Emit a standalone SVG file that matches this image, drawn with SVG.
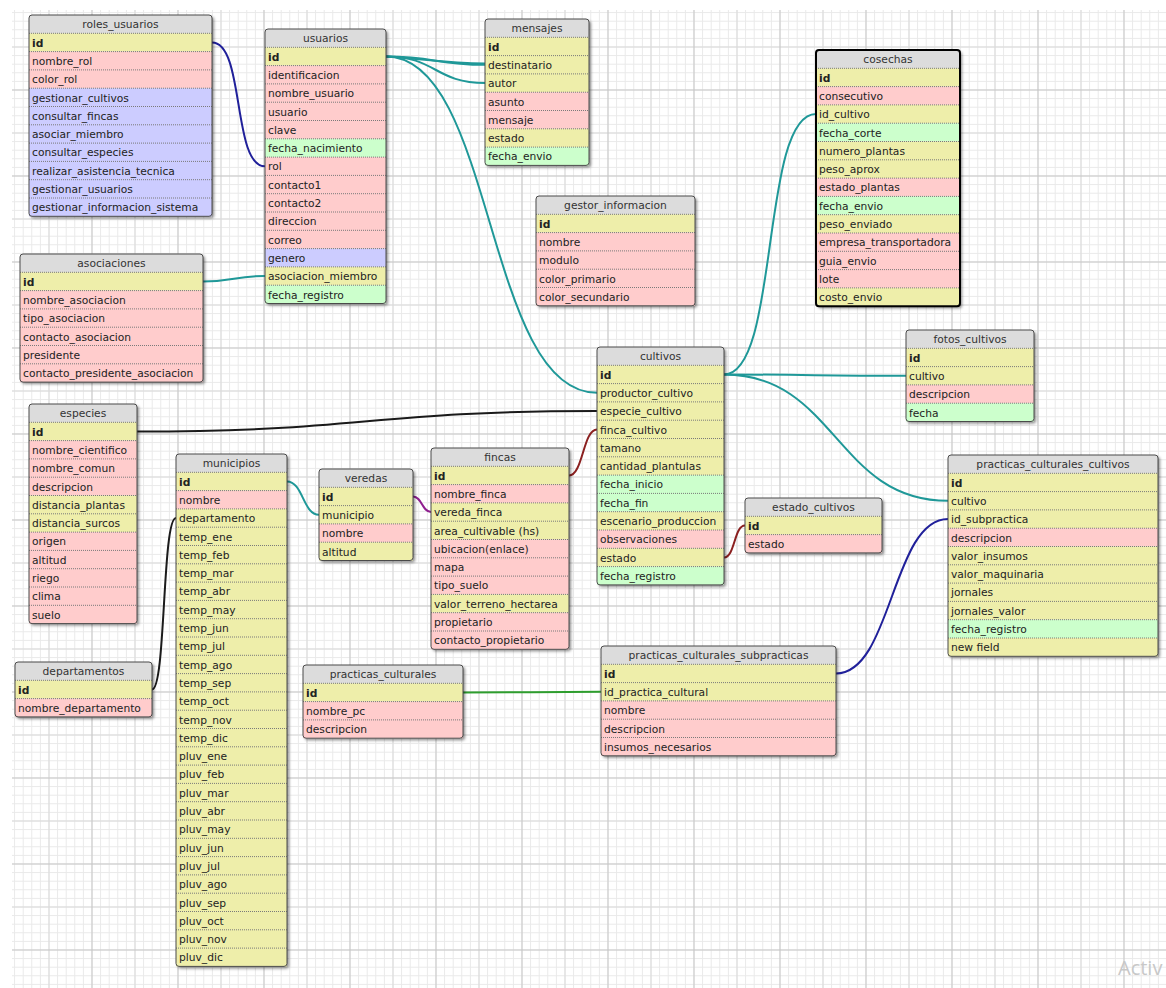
<svg xmlns="http://www.w3.org/2000/svg" width="1166" height="988" viewBox="0 0 1166 988">
<defs>
<pattern id="gmin" patternUnits="userSpaceOnUse" x="5.5" y="3.5" width="8.6" height="8.6"><path d="M0 0.5H8.6M0.5 0V8.6" stroke="#e9e9e9" stroke-width="1" fill="none"/></pattern>
<pattern id="gmaj" patternUnits="userSpaceOnUse" x="5.5" y="3.5" width="86" height="86"><path d="M0 43.5H86M43.5 0V86" stroke="#d9d9d9" stroke-width="1" fill="none"/><path d="M0 0.5H86M0.5 0V86" stroke="#c6c6c6" stroke-width="1" fill="none"/></pattern>
<filter id="sh" x="-10%" y="-10%" width="125%" height="125%"><feDropShadow dx="2" dy="2" stdDeviation="1.5" flood-color="#000" flood-opacity="0.45"/></filter>
</defs>
<style>
text{font-family:"DejaVu Sans",Verdana,sans-serif;font-size:10.7px;fill:#222}
.h{text-anchor:middle;fill:#333}
.k{font-weight:bold}
.fr{fill:#dcdcdc;filter:url(#sh)}
.bd{fill:none;stroke:#4a4a4a;stroke-width:1}
.sel{stroke:#000;stroke-width:2}
.ty{fill:#eeeeaa}.tp{fill:#ffcccc}.tb{fill:#ccccff}.tg{fill:#ccffcc}
.sp{fill:none;stroke:#7a7a7a;stroke-width:1;stroke-dasharray:1 1}
.c{fill:none;stroke-width:2}
.teal{stroke:#1f9898}.navy{stroke:#20209a}.blk{stroke:#1a1a1a}.red{stroke:#8b2020}.pur{stroke:#8e1e8e}.grn{stroke:#2e9e2e}
.wm{font-family:"Open Sans","Noto Sans",sans-serif;font-size:20px;fill:#c8c8c8}
</style>
<rect width="1166" height="988" fill="#fff"/>
<rect x="12" y="10" width="1154" height="978" fill="url(#gmin)"/>
<rect x="12" y="10" width="1154" height="978" fill="url(#gmaj)"/>

<g id="connectors">
<path class="c navy" d="M212,42.5 C245,42.5 232,166.3 265,166.3"/>
<path class="c teal" d="M203,281.5 C234,281.5 234,276 265,276"/>
<path class="c teal" d="M386,56.5 C436,56.5 435,64.8 485,64.8"/>
<path class="c teal" d="M386,56.5 C425,59 445,63 485,63.5"/>
<path class="c teal" d="M386,56.5 C436,56.5 435,83 485,83"/>
<path class="c teal" d="M386,56.5 C495,56.5 485,392.8 597,392.8"/>
<path class="c blk" d="M137,431.5 C367,431.5 367,411 597,411"/>
<path class="c red" d="M569,475.5 C583,475.5 583,429.4 597,429.4"/>
<path class="c red" d="M724,557.5 C735,557.5 734,525.5 745,525.5"/>
<path class="c teal" d="M287,481.5 C303,481.5 303,514.8 319,514.8"/>
<path class="c pur" d="M413,496.5 C422,496.5 422,512 431,512"/>
<path class="c blk" d="M152,689.5 C166,689.5 162,518 176,518"/>
<path class="c teal" d="M724,374.5 C780,374.5 760,114 816,114"/>
<path class="c teal" d="M724,374.5 C815,374.5 815,375.8 906,375.8"/>
<path class="c teal" d="M724,374.5 C836,374.5 836,500.8 948,500.8"/>
<path class="c grn" d="M463,692.5 C532,692.5 532,691.8 601,691.8"/>
<path class="c navy" d="M836,673.5 C892,673.5 892,519 948,519"/>
</g>

<g id="roles_usuarios" transform="translate(29,15)">
<rect class="fr" width="183" height="201.3" rx="3"/>
<rect class="ty" y="18.3" width="183" height="18.3"/>
<rect class="tp" y="36.6" width="183" height="36.6"/>
<rect class="tb" y="73.2" width="183" height="128.1"/>
<path class="sp" d="M0 18.3H183M0 36.6H183M0 54.9H183M0 73.2H183M0 91.5H183M0 109.8H183M0 128.1H183M0 146.4H183M0 164.7H183M0 183H183"/>
<rect class="bd" width="183" height="201.3" rx="3"/>
<text class="h" x="91.5" y="13.3">roles_usuarios</text>
<text class="k" x="3" y="31.6">id</text>
<text x="3" y="49.9">nombre_rol</text>
<text x="3" y="68.2">color_rol</text>
<text x="3" y="86.5">gestionar_cultivos</text>
<text x="3" y="104.8">consultar_fincas</text>
<text x="3" y="123.1">asociar_miembro</text>
<text x="3" y="141.4">consultar_especies</text>
<text x="3" y="159.7">realizar_asistencia_tecnica</text>
<text x="3" y="178">gestionar_usuarios</text>
<text x="3" y="196.3">gestionar_informacion_sistema</text>
</g>

<g id="usuarios" transform="translate(265,29)">
<rect class="fr" width="121" height="274.5" rx="3"/>
<rect class="ty" y="18.3" width="121" height="18.3"/>
<rect class="tp" y="36.6" width="121" height="73.2"/>
<rect class="tg" y="109.8" width="121" height="18.3"/>
<rect class="tp" y="128.1" width="121" height="91.5"/>
<rect class="tb" y="219.6" width="121" height="18.3"/>
<rect class="ty" y="237.9" width="121" height="18.3"/>
<rect class="tg" y="256.2" width="121" height="18.3"/>
<path class="sp" d="M0 18.3H121M0 36.6H121M0 54.9H121M0 73.2H121M0 91.5H121M0 109.8H121M0 128.1H121M0 146.4H121M0 164.7H121M0 183H121M0 201.3H121M0 219.6H121M0 237.9H121M0 256.2H121"/>
<rect class="bd" width="121" height="274.5" rx="3"/>
<text class="h" x="60.5" y="13.3">usuarios</text>
<text class="k" x="3" y="31.6">id</text>
<text x="3" y="49.9">identificacion</text>
<text x="3" y="68.2">nombre_usuario</text>
<text x="3" y="86.5">usuario</text>
<text x="3" y="104.8">clave</text>
<text x="3" y="123.1">fecha_nacimiento</text>
<text x="3" y="141.4">rol</text>
<text x="3" y="159.7">contacto1</text>
<text x="3" y="178">contacto2</text>
<text x="3" y="196.3">direccion</text>
<text x="3" y="214.6">correo</text>
<text x="3" y="232.9">genero</text>
<text x="3" y="251.2">asociacion_miembro</text>
<text x="3" y="269.5">fecha_registro</text>
</g>

<g id="mensajes" transform="translate(485,19)">
<rect class="fr" width="104" height="146.4" rx="3"/>
<rect class="ty" y="18.3" width="104" height="54.9"/>
<rect class="tp" y="73.2" width="104" height="36.6"/>
<rect class="ty" y="109.8" width="104" height="18.3"/>
<rect class="tg" y="128.1" width="104" height="18.3"/>
<path class="sp" d="M0 18.3H104M0 36.6H104M0 54.9H104M0 73.2H104M0 91.5H104M0 109.8H104M0 128.1H104"/>
<rect class="bd" width="104" height="146.4" rx="3"/>
<text class="h" x="52" y="13.3">mensajes</text>
<text class="k" x="3" y="31.6">id</text>
<text x="3" y="49.9">destinatario</text>
<text x="3" y="68.2">autor</text>
<text x="3" y="86.5">asunto</text>
<text x="3" y="104.8">mensaje</text>
<text x="3" y="123.1">estado</text>
<text x="3" y="141.4">fecha_envio</text>
</g>

<g id="gestor_informacion" transform="translate(536,196)">
<rect class="fr" width="159" height="109.8" rx="3"/>
<rect class="ty" y="18.3" width="159" height="18.3"/>
<rect class="tp" y="36.6" width="159" height="73.2"/>
<path class="sp" d="M0 18.3H159M0 36.6H159M0 54.9H159M0 73.2H159M0 91.5H159"/>
<rect class="bd" width="159" height="109.8" rx="3"/>
<text class="h" x="79.5" y="13.3">gestor_informacion</text>
<text class="k" x="3" y="31.6">id</text>
<text x="3" y="49.9">nombre</text>
<text x="3" y="68.2">modulo</text>
<text x="3" y="86.5">color_primario</text>
<text x="3" y="104.8">color_secundario</text>
</g>

<g id="cosechas" transform="translate(816,50)">
<rect class="fr" width="144" height="256.2" rx="3"/>
<rect class="ty" y="18.3" width="144" height="18.3"/>
<rect class="tp" y="36.6" width="144" height="18.3"/>
<rect class="ty" y="54.9" width="144" height="18.3"/>
<rect class="tg" y="73.2" width="144" height="18.3"/>
<rect class="ty" y="91.5" width="144" height="36.6"/>
<rect class="tp" y="128.1" width="144" height="18.3"/>
<rect class="tg" y="146.4" width="144" height="18.3"/>
<rect class="ty" y="164.7" width="144" height="18.3"/>
<rect class="tp" y="183" width="144" height="54.9"/>
<rect class="ty" y="237.9" width="144" height="18.3"/>
<path class="sp" d="M0 18.3H144M0 36.6H144M0 54.9H144M0 73.2H144M0 91.5H144M0 109.8H144M0 128.1H144M0 146.4H144M0 164.7H144M0 183H144M0 201.3H144M0 219.6H144M0 237.9H144"/>
<rect class="bd sel" width="144" height="256.2" rx="3"/>
<text class="h" x="72" y="13.3">cosechas</text>
<text class="k" x="3" y="31.6">id</text>
<text x="3" y="49.9">consecutivo</text>
<text x="3" y="68.2">id_cultivo</text>
<text x="3" y="86.5">fecha_corte</text>
<text x="3" y="104.8">numero_plantas</text>
<text x="3" y="123.1">peso_aprox</text>
<text x="3" y="141.4">estado_plantas</text>
<text x="3" y="159.7">fecha_envio</text>
<text x="3" y="178">peso_enviado</text>
<text x="3" y="196.3">empresa_transportadora</text>
<text x="3" y="214.6">guia_envio</text>
<text x="3" y="232.9">lote</text>
<text x="3" y="251.2">costo_envio</text>
</g>

<g id="asociaciones" transform="translate(20,254)">
<rect class="fr" width="183" height="128.1" rx="3"/>
<rect class="ty" y="18.3" width="183" height="18.3"/>
<rect class="tp" y="36.6" width="183" height="91.5"/>
<path class="sp" d="M0 18.3H183M0 36.6H183M0 54.9H183M0 73.2H183M0 91.5H183M0 109.8H183"/>
<rect class="bd" width="183" height="128.1" rx="3"/>
<text class="h" x="91.5" y="13.3">asociaciones</text>
<text class="k" x="3" y="31.6">id</text>
<text x="3" y="49.9">nombre_asociacion</text>
<text x="3" y="68.2">tipo_asociacion</text>
<text x="3" y="86.5">contacto_asociacion</text>
<text x="3" y="104.8">presidente</text>
<text x="3" y="123.1">contacto_presidente_asociacion</text>
</g>

<g id="especies" transform="translate(29,404)">
<rect class="fr" width="108" height="219.6" rx="3"/>
<rect class="ty" y="18.3" width="108" height="18.3"/>
<rect class="tp" y="36.6" width="108" height="54.9"/>
<rect class="ty" y="91.5" width="108" height="36.6"/>
<rect class="tp" y="128.1" width="108" height="91.5"/>
<path class="sp" d="M0 18.3H108M0 36.6H108M0 54.9H108M0 73.2H108M0 91.5H108M0 109.8H108M0 128.1H108M0 146.4H108M0 164.7H108M0 183H108M0 201.3H108"/>
<rect class="bd" width="108" height="219.6" rx="3"/>
<text class="h" x="54" y="13.3">especies</text>
<text class="k" x="3" y="31.6">id</text>
<text x="3" y="49.9">nombre_cientifico</text>
<text x="3" y="68.2">nombre_comun</text>
<text x="3" y="86.5">descripcion</text>
<text x="3" y="104.8">distancia_plantas</text>
<text x="3" y="123.1">distancia_surcos</text>
<text x="3" y="141.4">origen</text>
<text x="3" y="159.7">altitud</text>
<text x="3" y="178">riego</text>
<text x="3" y="196.3">clima</text>
<text x="3" y="214.6">suelo</text>
</g>

<g id="municipios" transform="translate(176,454)">
<rect class="fr" width="111" height="512.4" rx="3"/>
<rect class="ty" y="18.3" width="111" height="18.3"/>
<rect class="tp" y="36.6" width="111" height="18.3"/>
<rect class="ty" y="54.9" width="111" height="457.5"/>
<path class="sp" d="M0 18.3H111M0 36.6H111M0 54.9H111M0 73.2H111M0 91.5H111M0 109.8H111M0 128.1H111M0 146.4H111M0 164.7H111M0 183H111M0 201.3H111M0 219.6H111M0 237.9H111M0 256.2H111M0 274.5H111M0 292.8H111M0 311.1H111M0 329.4H111M0 347.7H111M0 366H111M0 384.3H111M0 402.6H111M0 420.9H111M0 439.2H111M0 457.5H111M0 475.8H111M0 494.1H111"/>
<rect class="bd" width="111" height="512.4" rx="3"/>
<text class="h" x="55.5" y="13.3">municipios</text>
<text class="k" x="3" y="31.6">id</text>
<text x="3" y="49.9">nombre</text>
<text x="3" y="68.2">departamento</text>
<text x="3" y="86.5">temp_ene</text>
<text x="3" y="104.8">temp_feb</text>
<text x="3" y="123.1">temp_mar</text>
<text x="3" y="141.4">temp_abr</text>
<text x="3" y="159.7">temp_may</text>
<text x="3" y="178">temp_jun</text>
<text x="3" y="196.3">temp_jul</text>
<text x="3" y="214.6">temp_ago</text>
<text x="3" y="232.9">temp_sep</text>
<text x="3" y="251.2">temp_oct</text>
<text x="3" y="269.5">temp_nov</text>
<text x="3" y="287.8">temp_dic</text>
<text x="3" y="306.1">pluv_ene</text>
<text x="3" y="324.4">pluv_feb</text>
<text x="3" y="342.7">pluv_mar</text>
<text x="3" y="361">pluv_abr</text>
<text x="3" y="379.3">pluv_may</text>
<text x="3" y="397.6">pluv_jun</text>
<text x="3" y="415.9">pluv_jul</text>
<text x="3" y="434.2">pluv_ago</text>
<text x="3" y="452.5">pluv_sep</text>
<text x="3" y="470.8">pluv_oct</text>
<text x="3" y="489.1">pluv_nov</text>
<text x="3" y="507.4">pluv_dic</text>
</g>

<g id="departamentos" transform="translate(15,662)">
<rect class="fr" width="137" height="54.9" rx="3"/>
<rect class="ty" y="18.3" width="137" height="18.3"/>
<rect class="tp" y="36.6" width="137" height="18.3"/>
<path class="sp" d="M0 18.3H137M0 36.6H137"/>
<rect class="bd" width="137" height="54.9" rx="3"/>
<text class="h" x="68.5" y="13.3">departamentos</text>
<text class="k" x="3" y="31.6">id</text>
<text x="3" y="49.9">nombre_departamento</text>
</g>

<g id="veredas" transform="translate(319,469)">
<rect class="fr" width="94" height="91.5" rx="3"/>
<rect class="ty" y="18.3" width="94" height="36.6"/>
<rect class="tp" y="54.9" width="94" height="18.3"/>
<rect class="ty" y="73.2" width="94" height="18.3"/>
<path class="sp" d="M0 18.3H94M0 36.6H94M0 54.9H94M0 73.2H94"/>
<rect class="bd" width="94" height="91.5" rx="3"/>
<text class="h" x="47" y="13.3">veredas</text>
<text class="k" x="3" y="31.6">id</text>
<text x="3" y="49.9">municipio</text>
<text x="3" y="68.2">nombre</text>
<text x="3" y="86.5">altitud</text>
</g>

<g id="fincas" transform="translate(431,448)">
<rect class="fr" width="138" height="201.3" rx="3"/>
<rect class="ty" y="18.3" width="138" height="18.3"/>
<rect class="tp" y="36.6" width="138" height="18.3"/>
<rect class="ty" y="54.9" width="138" height="36.6"/>
<rect class="tp" y="91.5" width="138" height="54.9"/>
<rect class="ty" y="146.4" width="138" height="18.3"/>
<rect class="tp" y="164.7" width="138" height="36.6"/>
<path class="sp" d="M0 18.3H138M0 36.6H138M0 54.9H138M0 73.2H138M0 91.5H138M0 109.8H138M0 128.1H138M0 146.4H138M0 164.7H138M0 183H138"/>
<rect class="bd" width="138" height="201.3" rx="3"/>
<text class="h" x="69" y="13.3">fincas</text>
<text class="k" x="3" y="31.6">id</text>
<text x="3" y="49.9">nombre_finca</text>
<text x="3" y="68.2">vereda_finca</text>
<text x="3" y="86.5">area_cultivable (hs)</text>
<text x="3" y="104.8">ubicacion(enlace)</text>
<text x="3" y="123.1">mapa</text>
<text x="3" y="141.4">tipo_suelo</text>
<text x="3" y="159.7">valor_terreno_hectarea</text>
<text x="3" y="178">propietario</text>
<text x="3" y="196.3">contacto_propietario</text>
</g>

<g id="cultivos" transform="translate(597,347)">
<rect class="fr" width="127" height="237.9" rx="3"/>
<rect class="ty" y="18.3" width="127" height="109.8"/>
<rect class="tg" y="128.1" width="127" height="36.6"/>
<rect class="ty" y="164.7" width="127" height="18.3"/>
<rect class="tp" y="183" width="127" height="18.3"/>
<rect class="ty" y="201.3" width="127" height="18.3"/>
<rect class="tg" y="219.6" width="127" height="18.3"/>
<path class="sp" d="M0 18.3H127M0 36.6H127M0 54.9H127M0 73.2H127M0 91.5H127M0 109.8H127M0 128.1H127M0 146.4H127M0 164.7H127M0 183H127M0 201.3H127M0 219.6H127"/>
<rect class="bd" width="127" height="237.9" rx="3"/>
<text class="h" x="63.5" y="13.3">cultivos</text>
<text class="k" x="3" y="31.6">id</text>
<text x="3" y="49.9">productor_cultivo</text>
<text x="3" y="68.2">especie_cultivo</text>
<text x="3" y="86.5">finca_cultivo</text>
<text x="3" y="104.8">tamano</text>
<text x="3" y="123.1">cantidad_plantulas</text>
<text x="3" y="141.4">fecha_inicio</text>
<text x="3" y="159.7">fecha_fin</text>
<text x="3" y="178">escenario_produccion</text>
<text x="3" y="196.3">observaciones</text>
<text x="3" y="214.6">estado</text>
<text x="3" y="232.9">fecha_registro</text>
</g>

<g id="fotos_cultivos" transform="translate(906,330)">
<rect class="fr" width="128" height="91.5" rx="3"/>
<rect class="ty" y="18.3" width="128" height="36.6"/>
<rect class="tp" y="54.9" width="128" height="18.3"/>
<rect class="tg" y="73.2" width="128" height="18.3"/>
<path class="sp" d="M0 18.3H128M0 36.6H128M0 54.9H128M0 73.2H128"/>
<rect class="bd" width="128" height="91.5" rx="3"/>
<text class="h" x="64" y="13.3">fotos_cultivos</text>
<text class="k" x="3" y="31.6">id</text>
<text x="3" y="49.9">cultivo</text>
<text x="3" y="68.2">descripcion</text>
<text x="3" y="86.5">fecha</text>
</g>

<g id="practicas_culturales_cultivos" transform="translate(948,455)">
<rect class="fr" width="210" height="201.3" rx="3"/>
<rect class="ty" y="18.3" width="210" height="54.9"/>
<rect class="tp" y="73.2" width="210" height="18.3"/>
<rect class="ty" y="91.5" width="210" height="73.2"/>
<rect class="tg" y="164.7" width="210" height="18.3"/>
<rect class="ty" y="183" width="210" height="18.3"/>
<path class="sp" d="M0 18.3H210M0 36.6H210M0 54.9H210M0 73.2H210M0 91.5H210M0 109.8H210M0 128.1H210M0 146.4H210M0 164.7H210M0 183H210"/>
<rect class="bd" width="210" height="201.3" rx="3"/>
<text class="h" x="105" y="13.3">practicas_culturales_cultivos</text>
<text class="k" x="3" y="31.6">id</text>
<text x="3" y="49.9">cultivo</text>
<text x="3" y="68.2">id_subpractica</text>
<text x="3" y="86.5">descripcion</text>
<text x="3" y="104.8">valor_insumos</text>
<text x="3" y="123.1">valor_maquinaria</text>
<text x="3" y="141.4">jornales</text>
<text x="3" y="159.7">jornales_valor</text>
<text x="3" y="178">fecha_registro</text>
<text x="3" y="196.3">new field</text>
</g>

<g id="estado_cultivos" transform="translate(745,498)">
<rect class="fr" width="137" height="54.9" rx="3"/>
<rect class="ty" y="18.3" width="137" height="18.3"/>
<rect class="tp" y="36.6" width="137" height="18.3"/>
<path class="sp" d="M0 18.3H137M0 36.6H137"/>
<rect class="bd" width="137" height="54.9" rx="3"/>
<text class="h" x="68.5" y="13.3">estado_cultivos</text>
<text class="k" x="3" y="31.6">id</text>
<text x="3" y="49.9">estado</text>
</g>

<g id="practicas_culturales" transform="translate(303,665)">
<rect class="fr" width="160" height="73.2" rx="3"/>
<rect class="ty" y="18.3" width="160" height="18.3"/>
<rect class="tp" y="36.6" width="160" height="36.6"/>
<path class="sp" d="M0 18.3H160M0 36.6H160M0 54.9H160"/>
<rect class="bd" width="160" height="73.2" rx="3"/>
<text class="h" x="80" y="13.3">practicas_culturales</text>
<text class="k" x="3" y="31.6">id</text>
<text x="3" y="49.9">nombre_pc</text>
<text x="3" y="68.2">descripcion</text>
</g>

<g id="practicas_culturales_subpracticas" transform="translate(601,646)">
<rect class="fr" width="235" height="109.8" rx="3"/>
<rect class="ty" y="18.3" width="235" height="36.6"/>
<rect class="tp" y="54.9" width="235" height="54.9"/>
<path class="sp" d="M0 18.3H235M0 36.6H235M0 54.9H235M0 73.2H235M0 91.5H235"/>
<rect class="bd" width="235" height="109.8" rx="3"/>
<text class="h" x="117.5" y="13.3">practicas_culturales_subpracticas</text>
<text class="k" x="3" y="31.6">id</text>
<text x="3" y="49.9">id_practica_cultural</text>
<text x="3" y="68.2">nombre</text>
<text x="3" y="86.5">descripcion</text>
<text x="3" y="104.8">insumos_necesarios</text>
</g>

<text class="wm" x="1118" y="975">Activ</text>
</svg>
